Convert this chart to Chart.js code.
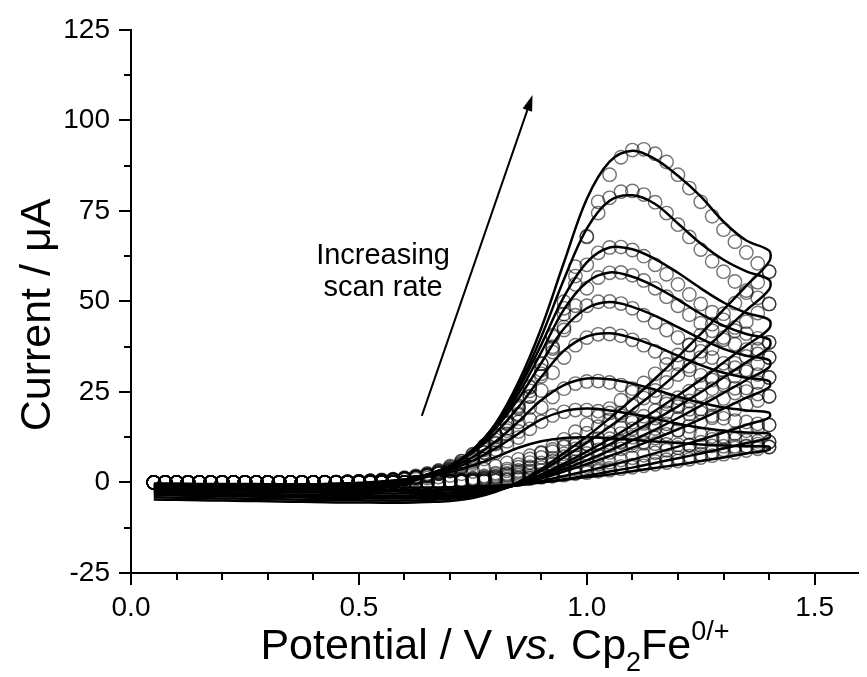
<!DOCTYPE html>
<html>
<head>
<meta charset="utf-8">
<script src="https://cdn.jsdelivr.net/npm/chart.js@4.4.1/dist/chart.umd.min.js"></script>
<style>
  html, body { margin: 0; padding: 0; background: #fff; }
  canvas { display: block; }
</style>
</head>
<body>
<canvas id="cv" width="867" height="677" style="width:867px;height:677px"></canvas>
<script>
const FONT = '"Liberation Sans", Arial, Helvetica, sans-serif';

// potential grids (V vs. Cp2Fe0/+)
const potentialSim = [0.05,0.1,0.15,0.2,0.25,0.3,0.35,0.4,0.45,0.5,0.55,0.6,0.65,0.7,0.75,0.8,0.85,0.9,0.95,1.0,1.05,1.1,1.15,1.2,1.25,1.3,1.35,1.4];
const potentialExp = [0.05,0.075,0.1,0.125,0.15,0.175,0.2,0.225,0.25,0.275,0.3,0.325,0.35,0.375,0.4,0.425,0.45,0.475,0.5,0.525,0.55,0.575,0.6,0.625,0.65,0.675,0.7,0.725,0.75,0.775,0.8,0.825,0.85,0.875,0.9,0.925,0.95,0.975,1.0,1.025,1.05,1.075,1.1,1.125,1.15,1.175,1.2,1.225,1.25,1.275,1.3,1.325,1.35,1.375,1.4];

// simulated currents (uA), forward sweep 0.05 -> 1.40, reverse sweep 1.40 -> 0.05
const simFwd1 = [-2.4,-2.4,-2.5,-2.5,-2.5,-2.6,-2.6,-2.6,-2.6,-2.4,-1.5,-0.3,1.7,4.3,8.8,16.3,27.7,42.6,60.8,78.3,88.6,91.6,89.3,84.7,79.0,72.0,66.8,64.0];
const simRev1 = [61.0,54.3,47.7,41.0,34.7,28.7,23.0,17.7,12.7,8.1,3.7,0.1,-2.6,-4.3,-5.1,-5.4,-5.6,-5.6,-5.5,-5.5,-5.4,-5.3,-5.2,-5.1,-5.0,-4.9,-4.8,-4.7];
const simFwd2 = [-2.1,-2.1,-2.2,-2.2,-2.2,-2.3,-2.3,-2.3,-2.3,-2.0,-1.1,0.0,1.8,4.4,8.8,16.1,26.5,40.2,56.1,70.1,77.8,79.3,76.9,71.5,66.0,61.5,58.3,56.0];
const simRev2 = [53.3,47.5,41.6,35.8,30.3,25.0,20.1,15.4,11.0,7.0,3.2,0.0,-2.4,-3.8,-4.5,-4.8,-5.0,-5.0,-4.9,-4.9,-4.8,-4.7,-4.6,-4.5,-4.4,-4.3,-4.2,-4.1];
const simFwd3 = [-1.8,-1.8,-1.9,-1.9,-1.9,-2.0,-2.0,-2.0,-2.0,-1.5,-0.8,0.4,2.1,4.5,9.1,16.1,25.7,38.0,51.3,60.8,64.9,64.4,61.7,57.9,53.6,49.7,46.8,44.9];
const simRev3 = [42.5,37.8,33.1,28.4,24.0,19.8,15.8,12.0,8.5,5.2,2.2,-0.4,-2.3,-3.5,-4.0,-4.3,-4.4,-4.4,-4.3,-4.3,-4.2,-4.1,-4.0,-3.9,-3.8,-3.7,-3.6,-3.5];
const simFwd4 = [-1.6,-1.6,-1.7,-1.7,-1.7,-1.8,-1.8,-1.8,-1.8,-1.2,-0.6,0.6,2.1,4.5,9.0,15.5,24.5,35.9,47.8,55.3,58.0,56.8,54.1,50.5,46.6,43.3,41.0,39.5];
const simRev4 = [37.3,33.2,29.0,24.9,21.0,17.3,13.8,10.5,7.4,4.5,1.8,-0.5,-2.1,-3.2,-3.7,-3.9,-4.0,-4.0,-3.9,-3.9,-3.8,-3.7,-3.6,-3.5,-3.4,-3.3,-3.2,-3.1];
const simFwd5 = [-1.4,-1.4,-1.5,-1.5,-1.5,-1.6,-1.6,-1.6,-1.6,-1.0,-0.4,0.7,2.2,4.6,8.7,14.9,23.1,33.0,42.5,48.1,49.8,48.5,46.0,42.9,39.7,36.9,35.0,33.8];
const simRev5 = [31.8,28.3,24.7,21.2,17.8,14.6,11.6,8.8,6.1,3.7,1.4,-0.6,-2.0,-2.9,-3.3,-3.5,-3.6,-3.6,-3.5,-3.5,-3.4,-3.3,-3.2,-3.1,-3.0,-2.9,-2.8,-2.7];
const simFwd6 = [-1.1,-1.1,-1.2,-1.2,-1.2,-1.3,-1.3,-1.3,-1.3,-0.7,-0.1,0.8,2.2,4.5,8.3,13.7,20.8,29.1,36.4,40.3,41.2,39.9,37.7,35.0,32.4,30.3,28.9,28.0];
const simRev6 = [26.3,23.4,20.4,17.5,14.7,12.1,9.6,7.3,5.1,3.0,1.1,-0.5,-1.7,-2.4,-2.8,-2.9,-3.0,-3.0,-2.9,-2.9,-2.8,-2.7,-2.6,-2.5,-2.4,-2.3,-2.2,-2.1];
const simFwd7 = [-0.8,-0.8,-0.9,-0.9,-0.9,-1.0,-1.0,-1.0,-1.0,-0.5,0.1,0.8,1.9,4.0,7.0,11.3,16.8,22.7,26.9,28.7,28.5,27.3,25.6,23.7,22.0,20.7,19.9,19.3];
const simRev7 = [17.9,15.9,13.8,11.8,9.9,8.1,6.3,4.7,3.2,1.8,0.4,-0.7,-1.5,-2.0,-2.2,-2.3,-2.4,-2.4,-2.3,-2.3,-2.2,-2.1,-2.0,-1.9,-1.8,-1.7,-1.6,-1.5];
const simFwd8 = [-0.6,-0.6,-0.7,-0.7,-0.7,-0.8,-0.8,-0.8,-0.5,-0.3,0.2,0.8,1.8,3.5,6.0,9.4,13.5,17.4,19.7,20.4,19.9,18.9,17.6,16.2,15.1,14.3,13.8,13.5];
const simRev8 = [12.3,10.9,9.4,8.0,6.7,5.4,4.1,3.0,1.9,0.9,0.0,-0.8,-1.4,-1.7,-1.9,-2.0,-2.0,-2.0,-1.9,-1.9,-1.8,-1.7,-1.6,-1.5,-1.4,-1.3,-1.2,-1.1];
const simFwd9 = [-0.3,-0.3,-0.4,-0.4,-0.4,-0.5,-0.5,-0.5,-0.3,-0.1,0.3,0.7,1.6,2.9,4.7,7.0,9.6,11.4,12.3,12.5,12.2,11.8,11.3,10.9,10.5,10.2,10.0,9.9];
const simRev9 = [9.0,8.0,6.9,5.9,4.9,4.0,3.1,2.2,1.5,0.7,0.1,-0.5,-0.9,-1.2,-1.3,-1.4,-1.4,-1.4,-1.3,-1.3,-1.2,-1.1,-1.0,-0.9,-0.8,-0.7,-0.6,-0.5];

// experimental currents (uA), forward 0.05 -> 1.40, reverse 1.40 -> 0.05
const expFwd1 = [0,0,0,0,0,0,0,0,0,0,0,0,0,0,0,0,0,0,0,
  0.1,0.3,0.5,0.8,1.2,1.7,2.4,3.3,4.5,6.1,8.2,10.9,14.3,18.6,23.8,30.0,37.5,46.5,57.0,68.0,
  77.5,85.0,89.8,91.8,92.0,90.8,88.5,85.0,81.3,77.5,73.5,69.8,66.5,63.5,60.5,58.2];
const expRev1 = [58.2,55.3,52.4,49.5,46.6,43.7,40.7,37.9,35.2,32.6,30.0,27.5,25.0,22.7,20.4,18.2,
  16.0,14.0,11.9,10.0,8.1,6.5,4.9,3.7,2.6,1.8,1.2,0.8,0.5,0.3,0.2,0.1,
  0,0,0,0,0,0,0,0,0,0,0,0,0,0,0,0,0,0,0,0,0,0,0];
const expFwd2 = [0,0,0,0,0,0,0,0,0,0,0,0,0,0,0,0,0,0,
  0.1,0.2,0.4,0.7,1.0,1.4,2.1,2.9,3.9,5.3,7.2,9.5,12.5,16.3,20.8,26.2,32.8,40.7,49.9,59.6,
  67.8,74.4,78.6,80.3,80.5,79.5,77.4,74.4,71.2,67.8,64.3,61.1,58.2,55.5,53.0,51.0,49.3];
const expRev2 = [49.3,46.8,44.4,41.9,39.4,37.0,34.5,32.1,29.8,27.6,25.4,23.3,21.2,19.2,17.3,15.4,
  13.6,11.8,10.1,8.5,6.9,5.5,4.2,3.2,2.2,1.5,1.0,0.6,0.4,0.2,0.1,0.0,
  0,0,0,0,0,0,0,0,0,0,0,0,0,0,0,0,0,0,0,0,0,0,0];
const expFwd3 = [0,0,0,0,0,0,0,0,0,0,0,0,0,0,0,0,0,
  0.1,0.2,0.3,0.6,0.8,1.2,1.7,2.3,3.2,4.3,5.8,7.7,10.1,13.1,16.8,21.2,26.5,32.8,40.3,48.1,
  54.7,60.1,63.4,64.9,65.0,64.2,62.5,60.1,57.5,54.7,51.9,49.3,47.0,44.9,42.8,41.1,39.8,38.7];
const expRev3 = [38.7,36.8,34.8,32.9,31.0,29.0,27.1,25.2,23.4,21.7,19.9,18.3,16.6,15.1,13.5,12.1,
  10.6,9.3,7.9,6.7,5.4,4.3,3.3,2.5,1.7,1.2,0.8,0.5,0.3,0.2,0.1,0.0,
  0,0,0,0,0,0,0,0,0,0,0,0,0,0,0,0,0,0,0,0,0,0,0];
const expFwd4 = [0,0,0,0,0,0,0,0,0,0,0,0,0,0,0,0,0,
  0.1,0.2,0.3,0.5,0.8,1.0,1.5,2.1,2.8,3.8,5.2,6.8,9.0,11.7,15.0,18.9,23.7,29.3,36.0,42.9,
  48.8,53.6,56.6,57.9,58.0,57.2,55.8,53.6,51.3,48.8,46.3,44.0,41.9,40.0,38.2,36.7,35.5,34.5];
const expRev4 = [34.5,32.8,31.1,29.3,27.6,25.9,24.2,22.5,20.9,19.3,17.8,16.3,14.8,13.5,12.1,10.8,
  9.5,8.3,7.1,5.9,4.8,3.9,2.9,2.2,1.6,1.1,0.7,0.4,0.3,0.2,0.1,0.0,
  0,0,0,0,0,0,0,0,0,0,0,0,0,0,0,0,0,0,0,0,0,0,0];
const expFwd5 = [0,0,0,0,0,0,0,0,0,0,0,0,0,0,0,0,
  0.1,0.2,0.3,0.5,0.7,0.9,1.3,1.8,2.5,3.3,4.5,5.9,7.8,10.1,13.0,16.3,20.4,25.3,31.0,37.0,
  42.1,46.2,48.8,49.9,50.0,49.4,48.1,46.2,44.2,42.1,40.0,38.0,36.2,34.5,32.9,31.7,30.6,29.8,29.0];
const expRev5 = [29.0,27.6,26.1,24.7,23.2,21.8,20.3,18.9,17.5,16.2,14.9,13.7,12.5,11.3,10.2,9.0,
  8.0,7.0,5.9,5.0,4.1,3.2,2.5,1.9,1.3,0.9,0.6,0.4,0.2,0.1,0.1,0.0,
  0,0,0,0,0,0,0,0,0,0,0,0,0,0,0,0,0,0,0,0,0,0,0];
const expFwd6 = [0,0,0,0,0,0,0,0,0,0,0,0,0,0,0,0,0,
  0.1,0.2,0.4,0.5,0.7,1.1,1.5,2.0,2.7,3.6,4.8,6.4,8.3,10.6,13.4,16.7,20.7,25.4,30.3,34.5,
  37.9,40.0,40.9,41.0,40.5,39.4,37.9,36.2,34.5,32.8,31.1,29.6,28.3,27.0,26.0,25.1,24.4,23.8];
const expRev6 = [23.8,22.6,21.4,20.2,19.0,17.9,16.7,15.5,14.4,13.3,12.3,11.2,10.2,9.3,8.3,7.4,
  6.5,5.7,4.9,4.1,3.3,2.7,2.0,1.5,1.1,0.7,0.5,0.3,0.2,0.1,0.1,0.0,
  0,0,0,0,0,0,0,0,0,0,0,0,0,0,0,0,0,0,0,0,0,0,0];
const expFwd7 = [0,0,0,0,0,0,0,0,0,0,0,0,0,0,0,0,
  0.1,0.1,0.3,0.4,0.5,0.7,1.0,1.4,1.8,2.5,3.3,4.3,5.7,7.3,9.1,11.4,14.1,17.4,20.7,23.6,
  25.9,27.3,27.9,28.0,27.6,26.9,25.9,24.8,23.6,22.4,21.3,20.2,19.3,18.4,17.7,17.1,16.7,16.2,15.9];
const expRev7 = [15.9,15.1,14.3,13.5,12.7,11.9,11.1,10.4,9.6,8.9,8.2,7.5,6.8,6.2,5.6,5.0,
  4.4,3.8,3.3,2.7,2.2,1.8,1.4,1.0,0.7,0.5,0.3,0.2,0.1,0.1,0.0,0.0,
  0,0,0,0,0,0,0,0,0,0,0,0,0,0,0,0,0,0,0,0,0,0,0];
const expFwd8 = [0,0,0,0,0,0,0,0,0,0,0,0,0,0,0,
  0.1,0.1,0.2,0.3,0.4,0.5,0.7,1.0,1.3,1.8,2.4,3.1,4.0,5.2,6.5,8.2,10.1,12.4,14.8,16.8,
  18.5,19.5,20.0,20.0,19.7,19.2,18.5,17.7,16.8,16.0,15.2,14.5,13.8,13.2,12.7,12.2,11.9,11.6,11.4,11.2];
const expRev8 = [11.2,10.6,10.1,9.5,9.0,8.4,7.8,7.3,6.8,6.3,5.8,5.3,4.8,4.4,3.9,3.5,
  3.1,2.7,2.3,1.9,1.6,1.3,1.0,0.7,0.5,0.3,0.2,0.1,0.1,0.1,0.0,0.0,
  0,0,0,0,0,0,0,0,0,0,0,0,0,0,0,0,0,0,0,0,0,0,0];
const expFwd9 = [0,0,0,0,0,0,0,0,0,0,0,0,0,0,0,
  0.1,0.1,0.2,0.2,0.3,0.4,0.5,0.7,0.9,1.2,1.5,1.9,2.4,3.0,3.7,4.5,5.4,6.4,7.4,8.3,
  9.1,9.8,10.3,10.7,10.9,11.0,11.0,10.9,10.8,10.7,10.5,10.4,10.3,10.2,10.1,10.0,10.0,9.9,9.9,9.8];
const expRev9 = [9.8,9.3,8.8,8.3,7.8,7.4,6.9,6.4,5.9,5.5,5.0,4.6,4.2,3.8,3.4,3.1,
  2.7,2.4,2.0,1.7,1.4,1.1,0.8,0.6,0.4,0.3,0.2,0.1,0.1,0.0,0.0,0.0,
  0,0,0,0,0,0,0,0,0,0,0,0,0,0,0,0,0,0,0,0,0,0,0];

// axis ticks
const xTickValues = [0,0.1,0.2,0.3,0.4,0.5,0.6,0.7,0.8,0.9,1.0,1.1,1.2,1.3,1.4,1.5];
const xLabelValues = [0, 0.5, 1.0, 1.5];
const xTickLabels = ['0.0', '0.5', '1.0', '1.5'];
const yTickValues = [-25,-12.5,0,12.5,25,37.5,50,62.5,75,87.5,100,112.5,125];
const yLabelValues = [-25, 0, 25, 50, 75, 100, 125];
const yTickLabels = ['-25', '0', '25', '50', '75', '100', '125'];

// annotation (data units)
const arrowTail = [0.638, 18.4];
const arrowHead = [0.881, 107];
const noteLines = ['Increasing', 'scan rate'];
const notePos = [[0.553, 60.4], [0.553, 51.6]];

const simCurves = [[simFwd1, simRev1], [simFwd2, simRev2], [simFwd3, simRev3], [simFwd4, simRev4],
  [simFwd5, simRev5], [simFwd6, simRev6], [simFwd7, simRev7], [simFwd8, simRev8], [simFwd9, simRev9]];
const expCurves = [[expFwd1, expRev1], [expFwd2, expRev2], [expFwd3, expRev3], [expFwd4, expRev4],
  [expFwd5, expRev5], [expFwd6, expRev6], [expFwd7, expRev7], [expFwd8, expRev8], [expFwd9, expRev9]];

const potentialSimRev = potentialSim.slice().reverse();
const potentialExpRev = potentialExp.slice().reverse();
const pts = (xs, ys) => xs.map((v, i) => ({ x: v, y: ys[i] }));

const datasets = [];
simCurves.forEach(([f, r]) => datasets.push({
  data: pts(potentialSim, f).concat(pts(potentialSimRev, r)),
  showLine: true,
  borderColor: '#000',
  borderWidth: 2.5,
  pointRadius: 0,
  tension: 0.35,
  fill: false,
  order: 1
}));
expCurves.forEach(([f, r]) => datasets.push({
  data: pts(potentialExp, f).concat(pts(potentialExpRev, r)),
  showLine: false,
  pointStyle: 'circle',
  pointRadius: 6.7,
  pointBorderWidth: 1.4,
  pointBorderColor: 'rgba(0,0,0,0.55)',
  pointBackgroundColor: 'rgba(0,0,0,0)',
  order: 2
}));

const labelFor = (vals, labels, v) => {
  const i = vals.findIndex(a => Math.abs(a - v) < 1e-6);
  return i < 0 ? '' : labels[i];
};

function richText(ctx, parts, cx, baseline, size) {
  const fontOf = p => `${p.italic ? 'italic ' : ''}${Math.round(size * (p.scale || 1))}px ${FONT}`;
  let total = 0;
  parts.forEach(p => { ctx.font = fontOf(p); p.w = ctx.measureText(p.t).width; total += p.w; });
  let xx = cx - total / 2;
  parts.forEach(p => {
    ctx.font = fontOf(p);
    ctx.fillText(p.t, xx, baseline + (p.dy || 0) * size);
    xx += p.w;
  });
}

const decor = {
  id: 'decor',
  afterDraw(chart) {
    const { ctx, chartArea, scales: { x, y } } = chart;
    ctx.save();
    ctx.strokeStyle = '#000';
    ctx.fillStyle = '#000';
    ctx.lineWidth = 2;

    // tick marks, major longer than minor
    x.ticks.forEach(t => {
      const px = Math.round(x.getPixelForValue(t.value));
      const len = labelFor(xLabelValues, xTickLabels, t.value) ? 12 : 7;
      ctx.beginPath();
      ctx.moveTo(px, chartArea.bottom);
      ctx.lineTo(px, chartArea.bottom + len);
      ctx.stroke();
    });
    y.ticks.forEach(t => {
      const py = Math.round(y.getPixelForValue(t.value));
      const len = labelFor(yLabelValues, yTickLabels, t.value) ? 12 : 7;
      ctx.beginPath();
      ctx.moveTo(chartArea.left - len, py);
      ctx.lineTo(chartArea.left, py);
      ctx.stroke();
    });

    // arrow
    const x0 = x.getPixelForValue(arrowTail[0]), y0 = y.getPixelForValue(arrowTail[1]);
    const x1 = x.getPixelForValue(arrowHead[0]), y1 = y.getPixelForValue(arrowHead[1]);
    const ang = Math.atan2(y1 - y0, x1 - x0);
    const hl = 16, hw = 5;
    const bx = x1 - hl * Math.cos(ang), by = y1 - hl * Math.sin(ang);
    ctx.beginPath();
    ctx.moveTo(x0, y0);
    ctx.lineTo(bx, by);
    ctx.stroke();
    ctx.beginPath();
    ctx.moveTo(x1, y1);
    ctx.lineTo(bx + hw * Math.sin(ang), by - hw * Math.cos(ang));
    ctx.lineTo(bx - hw * Math.sin(ang), by + hw * Math.cos(ang));
    ctx.closePath();
    ctx.fill();

    // note
    ctx.font = `29px ${FONT}`;
    ctx.textAlign = 'center';
    ctx.textBaseline = 'alphabetic';
    noteLines.forEach((s, i) => {
      ctx.fillText(s, x.getPixelForValue(notePos[i][0]), y.getPixelForValue(notePos[i][1]));
    });

    // y title
    ctx.save();
    ctx.font = `43px ${FONT}`;
    ctx.translate(50, 315);
    ctx.rotate(-Math.PI / 2);
    ctx.fillText('Current / \u03bcA', 0, 0);
    ctx.restore();

    // x title
    ctx.textAlign = 'left';
    richText(ctx, [
      { t: 'Potential / V ' },
      { t: 'vs.', italic: true },
      { t: ' Cp' },
      { t: '2', scale: 0.62, dy: 0.28 },
      { t: 'Fe' },
      { t: '0/+', scale: 0.62, dy: -0.45 }
    ], (chartArea.left + chartArea.right) / 2, 659, 43);
    ctx.restore();
  }
};

new Chart(document.getElementById('cv'), {
  type: 'scatter',
  data: { datasets },
  options: {
    responsive: false,
    animation: false,
    events: [],
    layout: { padding: { top: 27, right: 0, bottom: 0, left: 0 } },
    plugins: { legend: { display: false }, tooltip: { enabled: false } },
    scales: {
      x: {
        type: 'linear',
        min: 0,
        max: 1.597,
        afterBuildTicks: s => { s.ticks = xTickValues.map(v => ({ value: v })); },
        afterFit: s => { s.height = 104; },
        grid: { display: false },
        border: { display: true, color: '#000', width: 2 },
        ticks: {
          autoSkip: false, maxRotation: 0, padding: 10, color: '#000',
          font: { family: FONT, size: 28 },
          callback: v => labelFor(xLabelValues, xTickLabels, v)
        }
      },
      y: {
        type: 'linear',
        min: -25,
        max: 125,
        afterBuildTicks: s => { s.ticks = yTickValues.map(v => ({ value: v })); },
        afterFit: s => { s.width = 131; },
        grid: { display: false },
        border: { display: true, color: '#000', width: 2 },
        ticks: {
          autoSkip: false, padding: 13, color: '#000',
          font: { family: FONT, size: 28 },
          callback: v => labelFor(yLabelValues, yTickLabels, v)
        }
      }
    }
  },
  plugins: [decor]
});
</script>
</body>
</html>
